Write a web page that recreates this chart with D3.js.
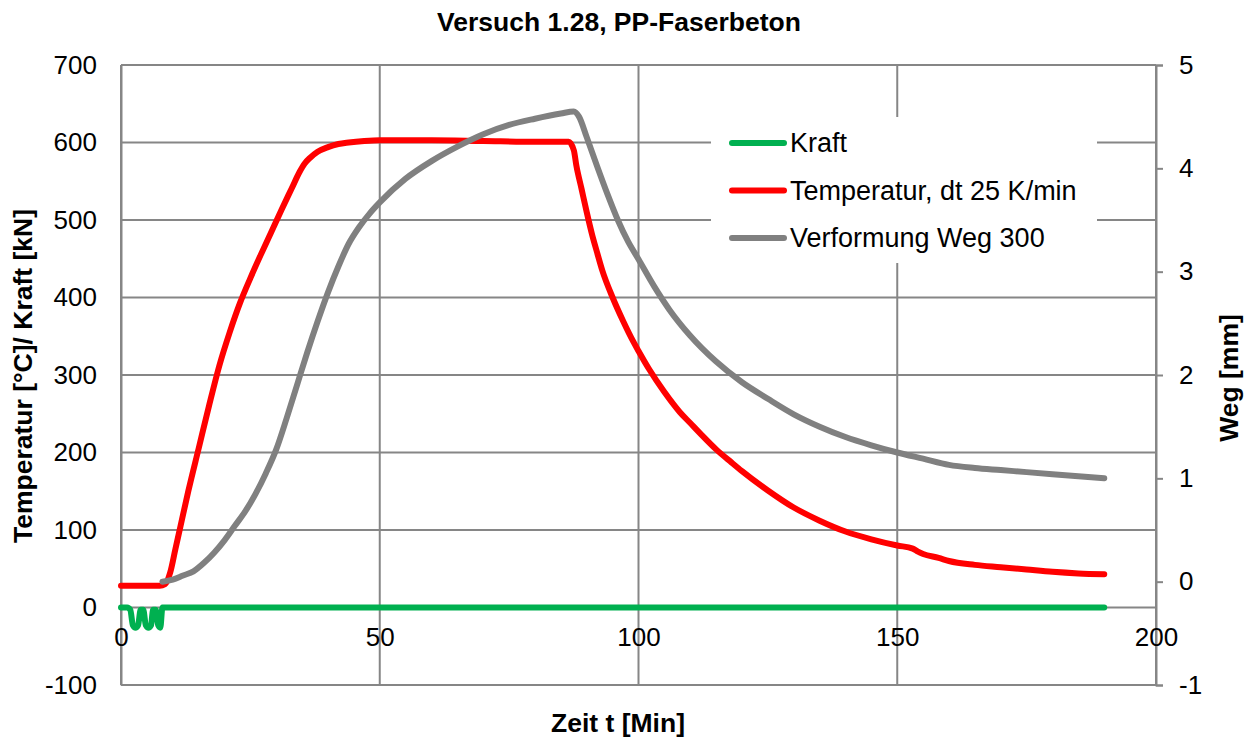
<!DOCTYPE html>
<html><head><meta charset="utf-8">
<script src="https://cdn.jsdelivr.net/npm/d3@7"></script>
<style>body{margin:0;background:#fff}svg{display:block}text{font-family:"Liberation Sans",Arial,sans-serif}</style>
</head><body><svg id="c" width="1251" height="740"></svg>
<script>
const title = "Versuch 1.28, PP-Faserbeton";
const xTicks = [0, 50, 100, 150, 200];
const yLeftTicks = [-100, 0, 100, 200, 300, 400, 500, 600, 700];
const yRightTicks = [-1, 0, 1, 2, 3, 4, 5];
const seriesNames = ["Kraft", "Temperatur, dt 25 K/min", "Verformung Weg 300"];
// Kraft [kN] (left axis)
const kraftT = [0, 1.2, 1.8, 2.3, 2.8, 3.3, 3.8, 4.3, 4.8, 5.3, 5.8, 6.2, 6.7, 7.2, 7.6, 8.0, 190];
const kraftV = [0, 0, -3, -23, -26, -23, -3, -3, -23, -26, -23, -3, -3, -23, -26, 0, 0];
// Temperatur [°C] (left axis)
const tempT = [0, 7.5, 8.5, 9.5, 10.5, 11.5, 13, 15, 17, 19, 21, 23, 25, 27, 29, 31, 33, 34.5, 35.5, 36.5, 38, 40, 42, 44, 47, 50, 60, 70, 80, 86.5, 87.5, 88, 89, 90, 91, 92, 93, 95, 97, 99, 100, 102, 105, 108, 110, 112, 115, 118, 120, 125, 130, 135, 140, 145, 150, 153, 154, 155, 158, 160, 165, 170, 175, 180, 185, 190];
const tempV = [28, 28, 30, 45, 75, 105, 150, 205, 260, 312, 355, 393, 425, 455, 484, 513, 541, 562, 573, 580, 588, 594, 598, 600, 602, 603, 603, 602, 601, 601, 590, 570, 540, 510, 482, 458, 435, 400, 370, 343, 331, 308, 278, 252, 238, 224, 204, 187, 176, 151, 129, 112, 98, 88, 80, 76, 72, 69, 64, 60, 55, 52, 49, 46, 44, 43];
// Verformung Weg 300 [mm] (right axis)
const wegT = [8, 10, 12, 14, 16, 18, 20, 22, 24, 26, 28, 30, 32, 34, 36, 38, 40, 42, 44, 46, 48, 50, 55, 60, 65, 70, 75, 80, 85, 87.5, 88.5, 90, 92, 94, 96, 98, 100, 103, 106, 110, 115, 120, 125, 130, 135, 140, 145, 150, 155, 160, 165, 170, 175, 180, 185, 190];
const wegV = [0, 0.02, 0.06, 0.1, 0.18, 0.28, 0.4, 0.54, 0.68, 0.85, 1.05, 1.28, 1.58, 1.9, 2.22, 2.52, 2.8, 3.05, 3.27, 3.43, 3.56, 3.67, 3.9, 4.07, 4.21, 4.33, 4.42, 4.48, 4.53, 4.55, 4.5, 4.3, 4.02, 3.75, 3.5, 3.29, 3.12, 2.86, 2.63, 2.38, 2.13, 1.93, 1.77, 1.62, 1.5, 1.4, 1.32, 1.25, 1.19, 1.13, 1.1, 1.08, 1.06, 1.04, 1.02, 1.0];

const L = 121, R = 1156, T = 65, B = 685;
const gridC = "#868686";
const svg = d3.select("#c");
const x = d3.scaleLinear().domain([0, 200]).range([L, R]);
const yL = d3.scaleLinear().domain([-100, 700]).range([B, T]);
const yR = d3.scaleLinear().domain([-1, 5]).range([B, T]);
const FS = 26;
const fmt = d => String(d);

// gridlines
const g = svg.append("g");
g.selectAll(".hg").data(yLeftTicks).join("line")
  .attr("x1", L).attr("x2", R).attr("y1", d => yL(d)).attr("y2", d => yL(d))
  .attr("stroke", gridC).attr("stroke-width", 2);
g.selectAll(".vg").data(xTicks).join("line")
  .attr("x1", d => x(d)).attr("x2", d => x(d)).attr("y1", T).attr("y2", B)
  .attr("stroke", gridC).attr("stroke-width", 2);

// left axis labels
const axL = svg.append("g").attr("transform", `translate(${L},0)`)
  .call(d3.axisLeft(yL).tickValues(yLeftTicks).tickSize(0).tickPadding(24).tickFormat(fmt));
axL.select(".domain").attr("stroke", gridC).attr("stroke-width", 2);
axL.selectAll("text").attr("font-size", FS).attr("fill", "#000").attr("font-family", "Liberation Sans, Arial, sans-serif");

// right axis
const axR = svg.append("g").attr("transform", `translate(${R},0)`)
  .call(d3.axisRight(yR).tickValues(yRightTicks).tickSize(7).tickPadding(16).tickFormat(fmt));
axR.select(".domain").attr("stroke", gridC).attr("stroke-width", 2);
axR.selectAll("line").attr("stroke", gridC).attr("stroke-width", 2);
axR.selectAll("text").attr("font-size", FS).attr("fill", "#000").attr("font-family", "Liberation Sans, Arial, sans-serif");

// bottom axis labels (positioned at y=0)
const axB = svg.append("g").attr("transform", `translate(0,${yL(0)})`)
  .call(d3.axisBottom(x).tickValues(xTicks).tickSize(0).tickPadding(20).tickFormat(fmt));
axB.select(".domain").remove();
axB.selectAll("text").attr("font-size", FS).attr("fill", "#000").attr("font-family", "Liberation Sans, Arial, sans-serif");

// series
const lineL = d3.line().x(d => x(d[0])).y(d => yL(d[1])).curve(d3.curveMonotoneX);
const lineR = d3.line().x(d => x(d[0])).y(d => yR(d[1])).curve(d3.curveMonotoneX);
const colors = ["#00B050", "#FF0000", "#808080"];
const kraft = kraftT.map((t, i) => [t, kraftV[i]]);
const temp = tempT.map((t, i) => [t, tempV[i]]);
const weg = wegT.map((t, i) => [t, wegV[i]]);
const SW = 6;
svg.append("path").attr("d", lineL(kraft)).attr("fill", "none").attr("stroke", colors[0]).attr("stroke-width", SW).attr("stroke-linejoin", "round").attr("stroke-linecap", "round");
svg.append("path").attr("d", lineL(temp)).attr("fill", "none").attr("stroke", colors[1]).attr("stroke-width", SW).attr("stroke-linejoin", "round").attr("stroke-linecap", "round");
svg.append("path").attr("d", lineR(weg)).attr("fill", "none").attr("stroke", colors[2]).attr("stroke-width", SW).attr("stroke-linejoin", "round").attr("stroke-linecap", "round");

// legend
const lg = svg.append("g");
lg.append("rect").attr("x", 711).attr("y", 117).attr("width", 386).attr("height", 146).attr("fill", "#fff");
seriesNames.forEach((n, i) => {
  const yy = 143 + i * 47.5;
  lg.append("line").attr("x1", 732).attr("x2", 784).attr("y1", yy).attr("y2", yy)
    .attr("stroke", colors[i]).attr("stroke-width", SW).attr("stroke-linecap", "round");
  lg.append("text").attr("x", 790).attr("y", yy).attr("dy", "0.35em").attr("font-size", 27).text(n);
});

// titles
svg.append("text").attr("x", 619).attr("y", 31).attr("text-anchor", "middle")
  .attr("font-size", 26.5).attr("font-weight", "bold").text(title);
svg.append("text").attr("x", 618).attr("y", 732).attr("text-anchor", "middle")
  .attr("font-size", 26.5).attr("font-weight", "bold").text("Zeit t [Min]");
svg.append("text").attr("transform", "translate(32,376) rotate(-90)").attr("text-anchor", "middle")
  .attr("font-size", 26.5).attr("font-weight", "bold").text("Temperatur [°C]/ Kraft [kN]");
svg.append("text").attr("transform", "translate(1238,378) rotate(-90)").attr("text-anchor", "middle")
  .attr("font-size", 26.5).attr("font-weight", "bold").text("Weg [mm]");
</script></body></html>
